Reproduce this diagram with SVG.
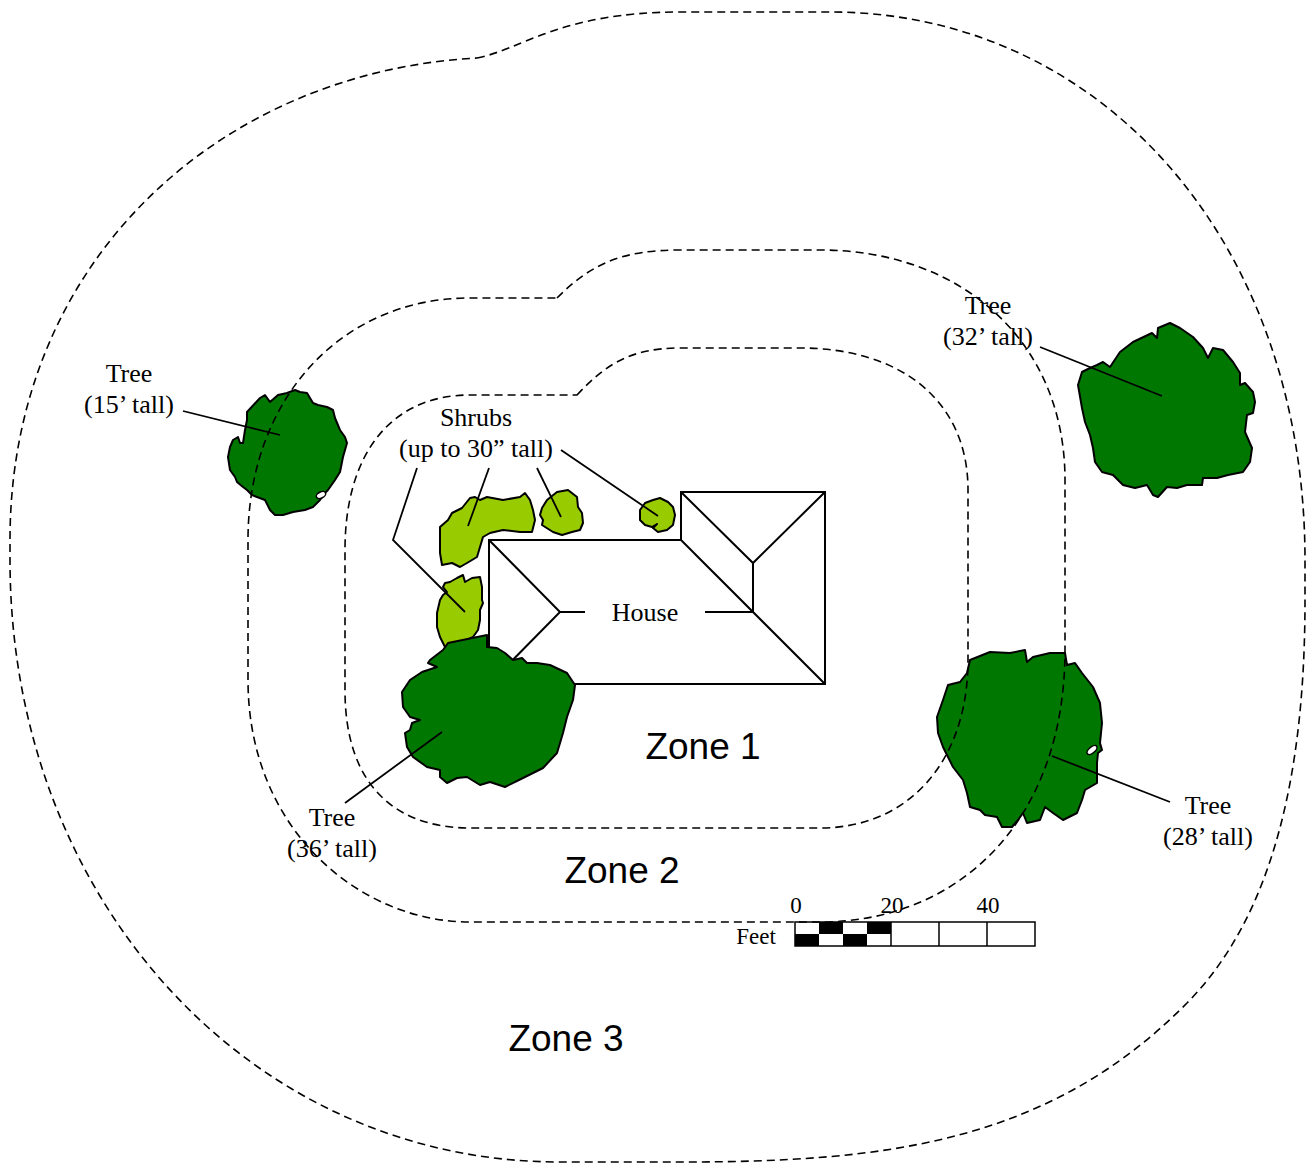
<svg xmlns="http://www.w3.org/2000/svg" width="1308" height="1164" viewBox="0 0 1308 1164">
<style>
.bg{fill:#ffffff}
.house{fill:#ffffff;stroke:#000;stroke-width:2;stroke-linejoin:miter}
.hl{fill:none;stroke:#000;stroke-width:2}
.tree{fill:#007700;stroke:#000;stroke-width:2;stroke-linejoin:round}
.shrub{fill:#99cc00;stroke:#000;stroke-width:2;stroke-linejoin:round}
.hole{fill:#ffffff;stroke:#000;stroke-width:1.5}
.zone{fill:none;stroke:#000;stroke-width:1.6;stroke-dasharray:8 5}
.lead{fill:none;stroke:#000;stroke-width:1.8}
.lbl{font-family:"Liberation Serif","Times New Roman",serif;font-size:26px;fill:#000;text-anchor:middle}
.sc{font-family:"Liberation Serif","Times New Roman",serif;font-size:23px;fill:#000;text-anchor:middle}
.zl{font-family:"Liberation Sans",Arial,sans-serif;font-size:37px;fill:#000;text-anchor:middle}
.bar{fill:#ffffff;stroke:#000;stroke-width:1.5}
.blk{fill:#000}
</style>
<rect class="bg" x="0" y="0" width="1308" height="1164"/>

<g id="house">
<polygon class="house" points="489,540 681,540 681,492 825,492 825,684 489,684"/>
<polyline class="hl" points="489,540 560,612 489,684"/>
<line class="hl" x1="560" y1="612" x2="585" y2="612"/>
<line class="hl" x1="705" y1="612" x2="753" y2="612"/>
<line class="hl" x1="753" y1="563" x2="753" y2="612"/>
<line class="hl" x1="681" y1="540" x2="825" y2="684"/>
<polyline class="hl" points="681,492 753,563 825,492"/>
<text class="lbl" x="645" y="621">House</text>
</g>

<g id="shrub-a">
<path class="shrub" d="M440,527 L448,520 L452,513 L458,510 L462,508 L470,498 L475,497 L480,500 L487,497 L503,500 L520,497 L525,493 L530,500 L533,510 L535,520 L532,532 L520,532 L503,530 L490,533 L483,537 L480,547 L477,557 L467,563 L460,567 L452,563 L442,565 L440,553 L440,540 Z"/>
</g>
<g id="shrub-b">
<path class="shrub" d="M542,508 L547,500 L557,492 L568,490 L577,497 L578,507 L582,513 L583,523 L580,530 L572,532 L562,535 L553,532 L542,525 L543,520 L540,515 Z"/>
</g>
<g id="shrub-c">
<path class="shrub" d="M640,510 L645,503 L653,500 L660,498 L668,502 L673,507 L675,515 L673,525 L667,530 L658,532 L653,528 L657,524 L652,527 L645,525 L640,520 Z"/>
</g>
<g id="shrub-d">
<path class="shrub" d="M445,583 L450,582 L457,578 L463,575 L465,582 L472,578 L480,577 L482,587 L482,600 L483,603 L480,610 L480,620 L478,630 L473,637 L463,642 L453,643 L445,647 L440,637 L437,627 L437,613 L440,600 L443,595 L447,592 L443,587 Z"/>
</g>

<g id="tree-15">
<path class="tree" d="M247,412 L260,398 L265,395 L270,402 L278,395 L287,393 L295,390 L300,392 L307,393 L313,403 L318,405 L327,407 L333,410 L335,418 L340,430 L345,437 L347,443 L343,457 L340,472 L335,480 L328,490 L325,493 L320,500 L313,507 L305,510 L293,512 L283,515 L275,515 L270,510 L265,500 L257,497 L252,495 L247,490 L243,487 L237,482 L235,477 L230,470 L228,457 L230,447 L233,440 L238,437 L240,443 L243,443 L245,430 L247,420 Z"/>
<ellipse class="hole" cx="321" cy="495" rx="5" ry="3" transform="rotate(-25 321 495)"/>
</g>

<g id="tree-32">
<path class="tree" d="M1110,367 L1120,352 L1133,342 L1152,333 L1157,338 L1158,328 L1170,323 L1180,328 L1193,337 L1203,348 L1208,358 L1213,348 L1223,350 L1233,362 L1240,373 L1240,385 L1245,383 L1253,392 L1255,402 L1253,413 L1247,415 L1245,432 L1252,448 L1250,462 L1243,472 L1228,475 L1217,478 L1203,478 L1202,485 L1187,485 L1177,488 L1167,487 L1158,497 L1153,495 L1147,485 L1135,488 L1123,485 L1113,475 L1102,472 L1095,462 L1093,448 L1090,435 L1085,422 L1082,408 L1078,385 L1082,372 L1090,368 L1097,365 L1103,362 Z"/>
</g>

<g id="tree-36">
<path class="tree" d="M448,643 L487,635 L487,647 L497,648 L505,653 L513,660 L522,658 L527,663 L537,663 L550,665 L567,673 L575,685 L573,700 L567,717 L563,733 L557,753 L543,768 L533,773 L523,778 L505,787 L490,782 L480,785 L467,777 L457,778 L447,783 L440,777 L440,770 L427,767 L413,757 L407,747 L405,733 L410,730 L412,723 L420,720 L410,717 L403,707 L402,692 L410,680 L422,672 L437,667 L428,663 L430,660 L443,650 Z"/>
</g>

<g id="tree-28">
<path class="tree" d="M970,660 L990,652 L1010,653 L1025,650 L1027,662 L1033,657 L1050,653 L1065,653 L1067,665 L1075,663 L1082,673 L1093,687 L1100,703 L1102,723 L1100,743 L1102,750 L1098,753 L1097,763 L1097,783 L1085,790 L1082,800 L1077,813 L1063,820 L1053,813 L1045,807 L1040,820 L1027,823 L1023,813 L1018,820 L1012,827 L1002,827 L997,817 L985,815 L980,810 L970,807 L967,793 L963,780 L953,767 L943,747 L938,733 L937,717 L943,700 L948,685 L960,682 L967,673 Z"/>
<ellipse class="hole" cx="1092" cy="750" rx="6" ry="3" transform="rotate(-40 1092 750)"/>
</g>

<g id="scale">
<rect class="bar" x="795" y="922" width="240" height="24"/>
<rect class="blk" x="819" y="922" width="24" height="12"/>
<rect class="blk" x="867" y="922" width="24" height="12"/>
<rect class="blk" x="795" y="934" width="24" height="12"/>
<rect class="blk" x="843" y="934" width="24" height="12"/>
<line class="hl" x1="891" y1="922" x2="891" y2="946" style="stroke-width:1.5"/>
<line class="hl" x1="939" y1="922" x2="939" y2="946" style="stroke-width:1.5"/>
<line class="hl" x1="987" y1="922" x2="987" y2="946" style="stroke-width:1.5"/>
<text class="sc" x="796" y="913">0</text>
<text class="sc" x="892" y="913">20</text>
<text class="sc" x="988" y="913">40</text>
<text class="sc" x="756" y="944">Feet</text>
</g>

<g id="zones">
<path class="zone" d="M577,395 C605,365 630,348 680,348 L800,348 C900,348 968,400 968,490 L968,660 C968,760 910,828 820,828 L470,828 C400,828 345,790 345,690 L345,550 C345,455 390,395 470,395 Z"/>
<path class="zone" d="M557,298 C590,265 620,250 680,250 L820,250 C960,250 1065,340 1065,480 L1065,650 C1065,820 960,922 820,922 L470,922 C360,922 248,830 248,680 L248,540 C248,400 340,298 470,298 Z"/>
<path class="zone" d="M477,58 C520,50 560,12 680,12 L830,12 C1100,12 1305,240 1305,560 L1305,600 C1305,740 1285,904 1187,1003 C1047,1145 880,1162 680,1162 L560,1162 C250,1162 10,900 10,560 L10,540 C10,260 220,72 477,58 Z"/>
<text class="zl" x="703" y="759">Zone 1</text>
<text class="zl" x="622" y="883">Zone 2</text>
<text class="zl" x="566" y="1051">Zone 3</text>
</g>

<g id="connectors">
<line class="lead" x1="183" y1="411" x2="280" y2="435"/>
<line class="lead" x1="1040" y1="347" x2="1162" y2="396"/>
<line class="lead" x1="345" y1="803" x2="442" y2="732"/>
<line class="lead" x1="1052" y1="756" x2="1170" y2="802"/>
<polyline class="lead" points="417,468 393,540 465,612"/>
<line class="lead" x1="489" y1="468" x2="468" y2="526"/>
<line class="lead" x1="537" y1="468" x2="561" y2="517"/>
<line class="lead" x1="561" y1="450" x2="658" y2="516"/>
</g>

<g id="labels">
<text class="lbl" x="129" y="382">Tree</text>
<text class="lbl" x="129" y="413">(15’ tall)</text>
<text class="lbl" x="988" y="314">Tree</text>
<text class="lbl" x="988" y="345">(32’ tall)</text>
<text class="lbl" x="476" y="426">Shrubs</text>
<text class="lbl" x="476" y="457">(up to 30” tall)</text>
<text class="lbl" x="332" y="826">Tree</text>
<text class="lbl" x="332" y="857">(36’ tall)</text>
<text class="lbl" x="1208" y="814">Tree</text>
<text class="lbl" x="1208" y="845">(28’ tall)</text>
</g>
</svg>
